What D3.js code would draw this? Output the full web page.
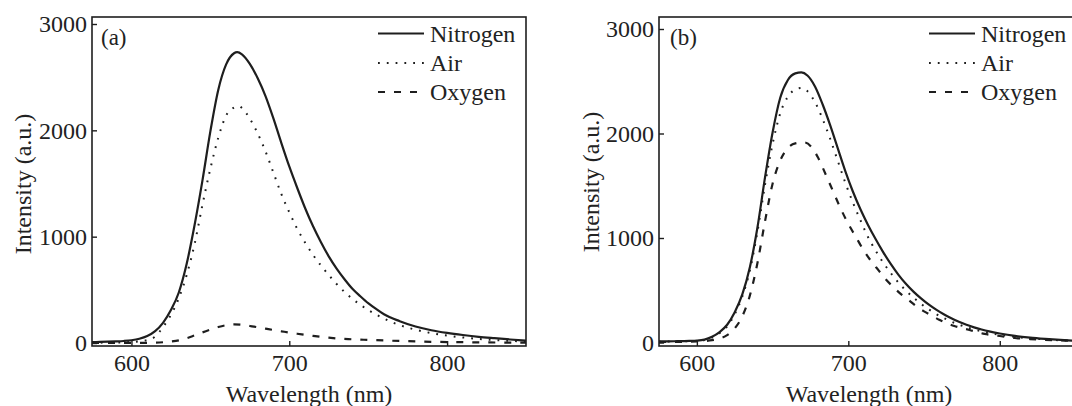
<!DOCTYPE html>
<html>
<head>
<meta charset="utf-8">
<script src="https://cdn.jsdelivr.net/npm/d3@7"></script>
<style>
html,body{margin:0;padding:0;background:#fff;}
svg{display:block;}
</style>
</head>
<body>
<svg id="chart" width="1072" height="406"></svg>
<script>
// ---------- data ----------
const xTicks = [600, 700, 800];
const yTicks = [0, 1000, 2000, 3000];
const seriesNames = ["Nitrogen", "Air", "Oxygen"];
const panelLabels = ["(a)", "(b)"];

// Panel (a): [wavelength nm, intensity a.u.]
const a_nitrogen = [[575,8],[580,10],[585,12],[590,15],[595,19],[600,26],[605,40],[610,66],[615,112],[620,190],[625,310],[630,475],[635,745],[640,1110],[645,1530],[650,1990],[655,2380],[660,2620],[665,2725],[667,2735],[670,2715],[675,2625],[680,2490],[685,2320],[690,2110],[695,1880],[700,1660],[705,1460],[710,1270],[715,1100],[720,950],[725,815],[730,700],[735,600],[740,510],[745,440],[750,375],[755,320],[760,270],[770,205],[780,155],[790,120],[800,95],[810,75],[820,58],[830,45],[840,33],[850,22]];
const a_air = [[575,3],[590,5],[600,10],[605,16],[610,28],[615,60],[620,150],[625,265],[630,420],[635,640],[640,930],[645,1300],[650,1640],[655,1930],[660,2140],[665,2215],[668,2228],[670,2210],[675,2110],[680,1970],[685,1800],[690,1600],[695,1400],[700,1230],[705,1075],[710,945],[715,830],[720,730],[725,640],[730,555],[735,480],[740,415],[745,360],[750,310],[755,268],[760,230],[765,196],[770,168],[775,145],[780,125],[785,108],[790,93],[795,80],[800,69],[810,52],[820,38],[830,28],[840,20],[850,14]];
const a_oxygen = [[575,0],[600,1],[610,2],[615,3],[620,7],[625,14],[630,25],[635,45],[640,72],[645,100],[650,126],[655,150],[660,168],[665,176],[670,172],[675,160],[680,148],[685,135],[690,122],[695,110],[700,98],[705,87],[710,77],[715,67],[720,58],[725,50],[730,43],[740,35],[750,29],[760,24],[770,19],[780,15],[790,11],[800,9],[820,6],[850,3]];

// Panel (b)
const b_nitrogen = [[575,10],[585,12],[595,15],[600,18],[605,28],[610,55],[615,100],[620,170],[625,290],[630,460],[635,720],[640,1100],[645,1580],[650,2010],[655,2340],[660,2510],[665,2575],[669,2585],[673,2555],[678,2450],[683,2280],[688,2080],[693,1860],[698,1640],[703,1445],[708,1275],[713,1125],[718,990],[723,865],[728,752],[733,650],[738,562],[743,487],[748,422],[753,364],[758,314],[763,270],[768,232],[773,199],[778,170],[783,145],[788,124],[793,106],[800,86],[810,63],[820,47],[830,35],[840,25],[850,17]];
const b_air = [[575,8],[600,15],[605,24],[610,48],[615,90],[620,155],[625,270],[630,440],[635,690],[640,1060],[645,1510],[650,1900],[655,2190],[660,2350],[665,2420],[669,2435],[673,2405],[678,2300],[683,2140],[688,1950],[693,1740],[698,1530],[703,1340],[708,1170],[713,1010],[718,880],[723,765],[728,665],[733,575],[738,497],[743,430],[748,370],[753,318],[758,272],[763,234],[768,200],[773,171],[778,146],[783,125],[788,107],[793,91],[800,74],[810,54],[820,40],[830,29],[840,21],[850,14]];
const b_oxygen = [[575,4],[600,10],[605,14],[610,22],[615,38],[620,70],[625,135],[630,250],[635,450],[640,760],[645,1160],[650,1520],[655,1740],[660,1860],[665,1905],[671,1915],[676,1865],[680,1770],[685,1610],[690,1445],[695,1280],[700,1135],[705,1010],[710,885],[715,780],[720,690],[725,600],[730,527],[735,460],[740,405],[745,345],[750,298],[755,258],[760,218],[765,185],[770,158],[775,138],[780,120],[790,82],[800,62],[810,43],[820,33],[830,25],[840,20],[850,15]];

const panels = [
  {label: panelLabels[0], series: [a_nitrogen, a_air, a_oxygen],
   left: 92, right: 526, top: 17, bottom: 346, y0: 343, y3000: 24,
   xRight: 526, legendX: 378, labelX: 101, titleYx: 31, titleYy: 184, titleXx: 309},
  {label: panelLabels[1], series: [b_nitrogen, b_air, b_oxygen],
   left: 659, right: 1075.5, top: 17, bottom: 346, y0: 342.5, y3000: 29,
   xRight: 1075.5, legendX: 929, labelX: 670, titleYx: 599, titleYy: 182, titleXx: 869}
];

const styles = [
  {dash: null, width: 2.2},
  {dash: "1.8,7", width: 2},
  {dash: "7,9", width: 2.2}
];
const ink = "#1e1e1e";
const FONT = '"Liberation Serif", "Times New Roman", serif';

const svg = d3.select("#chart");

function txt(sel) {
  return sel.style("font-family", FONT).style("fill", "#222");
}

panels.forEach((p, pi) => {
  const x = d3.scaleLinear().domain([575, 850]).range([p.left, p.xRight]);
  const y = d3.scaleLinear().domain([0, 3000]).range([p.y0, p.y3000]);
  const g = svg.append("g");

  const clipId = "clip" + pi;
  g.append("clipPath").attr("id", clipId).append("rect")
    .attr("x", p.left).attr("y", p.top).attr("width", p.right - p.left).attr("height", p.bottom - p.top);

  // curves
  const line = d3.line().x(d => x(d[0])).y(d => y(d[1])).curve(d3.curveMonotoneX);
  p.series.forEach((s, si) => {
    g.append("path").datum(s)
      .attr("clip-path", `url(#${clipId})`)
      .attr("d", line)
      .attr("fill", "none")
      .attr("stroke", ink)
      .attr("stroke-width", styles[si].width)
      .attr("stroke-dasharray", styles[si].dash);
  });

  // frame
  g.append("rect").attr("x", p.left).attr("y", p.top)
    .attr("width", p.right - p.left).attr("height", p.bottom - p.top)
    .attr("fill", "none").attr("stroke", ink).attr("stroke-width", 1.6);

  // axes
  const xAxis = d3.axisBottom(x).tickValues(xTicks).tickSizeInner(-5).tickSizeOuter(0).tickPadding(8);
  const gx = g.append("g").attr("transform", `translate(0,${p.bottom})`).call(xAxis);
  const yAxis = d3.axisLeft(y).tickValues(yTicks).tickSizeInner(-5).tickSizeOuter(0).tickPadding(5).tickFormat(d3.format("d"));
  const gy = g.append("g").attr("transform", `translate(${p.left},0)`).call(yAxis);
  [gx, gy].forEach(ax => {
    ax.select(".domain").remove();
    ax.selectAll(".tick line").attr("stroke", ink).attr("stroke-width", 1.4);
    txt(ax.selectAll(".tick text")).style("font-size", "24px");
  });

  // titles
  txt(g.append("text").attr("x", p.titleXx).attr("y", 402).attr("text-anchor", "middle"))
    .style("font-size", "24px").text("Wavelength (nm)");
  txt(g.append("text").attr("transform", `translate(${p.titleYx},${p.titleYy}) rotate(-90)`)
    .attr("text-anchor", "middle")).style("font-size", "24px").text("Intensity (a.u.)");

  // panel label
  txt(g.append("text").attr("x", p.labelX).attr("y", 44.5)).style("font-size", "23px").text(p.label);

  // legend
  const rowsY = [33.5, 63, 92];
  seriesNames.forEach((name, si) => {
    g.append("line").attr("x1", p.legendX).attr("x2", p.legendX + 46)
      .attr("y1", rowsY[si]).attr("y2", rowsY[si])
      .attr("stroke", ink).attr("stroke-width", styles[si].width)
      .attr("stroke-dasharray", styles[si].dash);
    txt(g.append("text").attr("x", p.legendX + 52).attr("y", rowsY[si] + 8.3))
      .style("font-size", "24px").text(name);
  });
});
</script>
</body>
</html>
